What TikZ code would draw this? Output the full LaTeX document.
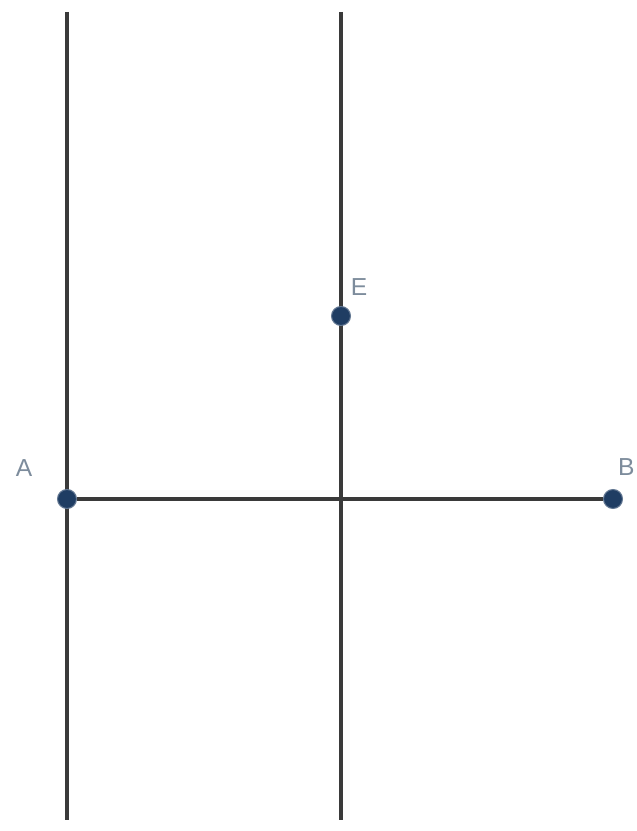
\documentclass[tikz,border=0pt]{standalone}
\usepackage{fontspec}
\setsansfont{Liberation Sans}
\usepackage{tikz}
\usetikzlibrary{positioning}
\definecolor{LineInk}{HTML}{3A3A3A}
\definecolor{PointFill}{HTML}{1F3D63}
\definecolor{LabelInk}{HTML}{7D8C9C}
\tikzset{
  figure/.style={font=\sffamily},
  axisline/.style={draw=LineInk,line width=2pt},
  pointdot/.style={circle,fill=PointFill,draw=PointFill!70,line width=0.6pt,inner sep=0pt,minimum size=0.38cm},
  pointname/.style={text=LabelInk,font=\sffamily\fontsize{14}{14}\selectfont,inner sep=0pt},
}

\begin{document}
\begin{tikzpicture}[figure]
  \useasboundingbox (0,0) rectangle (12.72,16.62);

  \coordinate (leftTop) at (1.34,16.38);
  \coordinate (leftBottom) at (1.34,0.22);
  \coordinate (midTop) at (6.82,16.38);
  \coordinate (midBottom) at (6.82,0.22);

  \draw[axisline] (leftTop) -- (leftBottom);
  \draw[axisline] (midTop) -- (midBottom);

  \node[pointdot] (A) at (1.34,6.64) {};
  \node[pointdot] (B) at (12.26,6.64) {};
  \node[pointdot] (E) at (6.82,10.30) {};

  \draw[axisline] (A) -- (B);

  \node[pointname] (labelA) at (0.48,7.26) {A};
  \node[pointname] (labelE) at (7.18,10.88) {E};
  \node[pointname,anchor=east] (labelB) at (12.70,7.28) {B};
\end{tikzpicture}
\end{document}
